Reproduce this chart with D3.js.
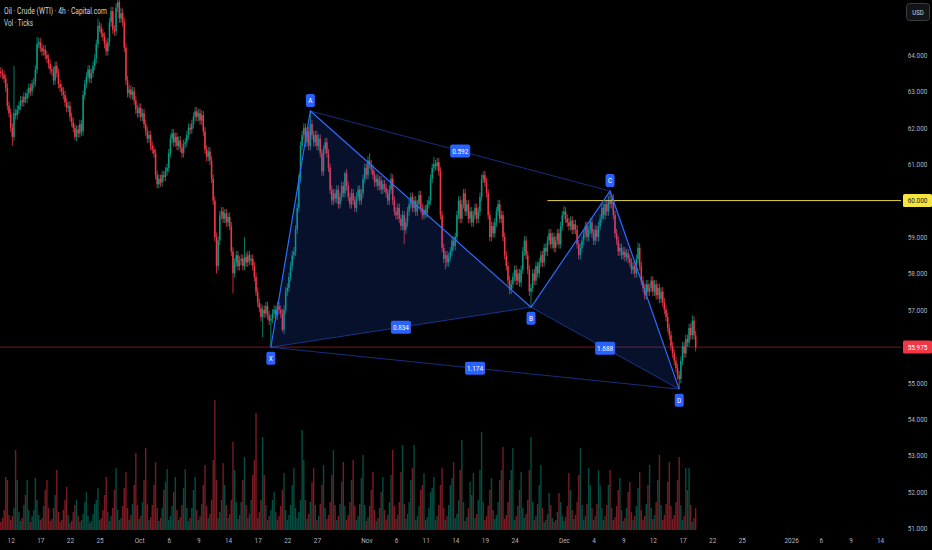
<!DOCTYPE html>
<html>
<head>
<meta charset="utf-8">
<script src="https://cdn.jsdelivr.net/npm/d3@7"></script>
<style>
  html, body { margin: 0; padding: 0; background: #000; }
  svg { display: block; }
  text { font-family: Roboto, 'Noto Sans', sans-serif; }
</style>
</head>
<body>
<div id="chart"></div>
<script>
// 4h closes, Sep 11 -> Dec 18 (6 bars a trading day)
const closes = [
  63.5, 63.45, 63.35, 63.1, 62.6, 62.4,
  62.0, 61.75, 62.4, 62.35, 62.5, 62.6,
  62.75, 62.7, 62.85, 62.8, 62.95, 63.1,
  63.0, 63.2, 63.25, 63.6, 64.3, 64.35,
  64.2, 64.1, 64.15, 64.0, 63.9, 63.75,
  63.6, 63.55, 63.3, 63.7, 63.5, 63.2,
  63.1, 63.0, 62.9, 62.7, 62.55, 62.6,
  62.3, 62.15, 62.0, 61.75, 61.95, 61.85,
  62.1, 61.9, 62.9, 63.2, 63.4, 63.6,
  63.35, 63.5, 63.7, 63.9, 64.3, 64.8,
  64.75, 64.6, 64.5, 64.3, 64.1, 64.35,
  64.9, 65.2, 64.7, 64.65, 65.3, 65.45,
  65.0, 65.15, 64.9, 64.2, 63.3, 62.95,
  63.05, 62.9, 63.0, 62.75, 62.5, 62.4,
  62.55, 62.3, 62.4, 62.1, 61.9, 61.7,
  61.8, 61.5, 61.4, 61.3, 60.7, 60.45,
  60.6, 60.5, 60.7, 60.65, 60.8, 60.9,
  61.3, 61.7, 61.85, 61.6, 61.75, 61.5,
  61.65, 61.45, 61.3, 61.55, 61.6, 61.8,
  62.0, 61.95, 62.1, 62.3, 62.45, 62.3,
  62.4, 62.2, 62.35, 61.9, 61.4, 61.2,
  61.35, 61.1, 60.6, 60.0, 59.0, 58.2,
  58.9, 59.6, 59.7, 59.5, 59.65, 59.4,
  59.55, 59.3, 58.6, 58.0, 58.3, 58.5,
  58.2, 58.35, 58.4, 58.2, 58.45, 58.3,
  58.5, 58.35, 58.4, 58.2, 57.9, 57.5,
  57.2, 57.05, 56.8, 57.0, 56.9, 57.1,
  56.85, 56.7, 56.75, 56.9, 57.0, 56.85,
  57.1, 57.0, 56.9, 56.45, 57.0, 57.5,
  57.6, 57.9, 58.2, 58.5, 58.6, 59.2,
  59.8, 60.6, 61.5, 61.8, 62.0, 61.6,
  61.9, 61.5, 62.1, 61.8, 61.6, 61.8,
  61.5, 61.7, 61.3, 60.8, 61.4, 61.6,
  61.3, 60.9, 60.3, 60.0, 60.2, 60.05,
  60.3, 59.9, 60.1, 60.4, 60.2, 60.75,
  60.4, 60.1, 59.9, 60.2, 60.0, 59.8,
  60.1, 60.3, 60.0, 60.2, 60.6, 60.9,
  60.7, 61.1, 61.0, 60.85, 60.7, 60.5,
  60.6, 60.4, 60.55, 60.3, 60.45, 60.35,
  60.2, 60.0, 60.3, 60.6, 60.0, 59.7,
  59.6, 59.8, 59.5, 59.3, 59.6, 59.2,
  59.4, 59.7, 59.9, 60.1, 59.8, 60.0,
  59.7, 59.9, 60.15, 59.8, 59.6, 59.75,
  59.65, 59.9, 60.0, 60.6, 60.9, 61.0,
  60.95, 61.05, 60.8, 59.6, 58.7, 58.4,
  58.5, 58.3, 58.45, 58.6, 58.9, 58.75,
  59.0, 59.6, 60.0, 59.5, 59.9, 60.2,
  59.7, 59.9, 59.5, 59.7, 59.4, 59.6,
  59.8, 59.5, 59.7, 60.1, 60.6, 60.7,
  60.5, 60.2, 59.6, 59.0, 59.3, 59.1,
  59.4, 59.7, 59.9, 59.5, 59.6, 59.0,
  58.5, 58.2, 57.8, 57.55, 57.7, 57.9,
  58.1, 57.8, 58.0, 57.75, 58.1, 58.6,
  58.9, 58.5, 58.1, 57.5, 57.6, 58.0,
  57.8, 58.2, 58.0, 58.3, 58.5, 58.3,
  58.7, 58.6, 58.9, 59.1, 58.8, 59.0,
  58.7, 58.9, 59.1, 58.8, 59.3, 59.6,
  59.7, 59.5, 59.4, 59.3, 59.45, 59.2,
  59.35, 59.2, 58.8, 58.5, 58.7, 58.9,
  59.1, 59.3, 59.0, 59.2, 59.4, 59.1,
  58.9, 59.2, 59.0, 59.3, 59.5, 59.8,
  59.6, 59.9, 59.7, 60.0, 59.9, 60.05,
  59.6, 59.1, 58.9, 58.6, 58.7, 58.5,
  58.6, 58.45, 58.55, 58.4, 58.3, 58.1,
  58.2, 58.0, 58.4, 58.7, 58.2, 57.8,
  57.6, 57.4, 57.7, 57.5, 57.6, 57.8,
  57.5, 57.7, 57.4, 57.6, 57.3, 57.5,
  57.2, 57.0, 56.8, 56.5, 56.3, 56.0,
  55.8, 55.6, 55.4, 55.2, 55.1, 55.6,
  56.0, 55.8, 56.2, 56.1, 56.5, 56.3,
  56.7, 56.3, 55.975
]
const firstOpen = 63.55

// ticks volume, same bars
const volumes = [
  8, 12, 20, 53, 50, 15,   10, 14, 22, 80, 50, 18,   9, 12, 25, 35, 50, 20,
  8, 14, 20, 52, 30, 15,   10, 12, 24, 40, 50, 22,   9, 11, 22, 35, 60, 18,
  8, 10, 20, 30, 43, 15,   7, 9, 18, 25, 30, 14,     8, 10, 16, 28, 38, 14,
  7, 9, 16, 26, 30, 42,    10, 12, 20, 35, 53, 18,   9, 14, 22, 40, 62, 20,
  10, 12, 24, 42, 58, 22,  10, 15, 26, 45, 77, 25,   11, 14, 28, 50, 82, 26,
  10, 13, 25, 45, 68, 22,  9, 12, 22, 40, 48, 61,    10, 14, 24, 38, 53, 20,
  10, 13, 25, 42, 61, 22,  9, 12, 22, 40, 53, 20,    10, 14, 26, 45, 65, 24,
  12, 16, 30, 70, 130, 50, 12, 18, 30, 67, 45, 25,   12, 16, 30, 88, 60, 28,
  11, 15, 28, 50, 73, 25,  12, 16, 30, 55, 70, 117,  12, 18, 30, 93, 55, 25,
  10, 14, 20, 30, 38, 18,  10, 14, 24, 40, 57, 20,   10, 15, 25, 45, 62, 22,
  12, 18, 30, 100, 70, 30, 11, 16, 28, 48, 62, 25,   10, 14, 26, 45, 65, 22,
  11, 15, 28, 55, 80, 25,  10, 14, 26, 48, 68, 24,   10, 15, 28, 50, 70, 24,
  10, 14, 26, 52, 75, 25,  9, 13, 24, 40, 58, 20,    9, 12, 22, 38, 53, 20,
  10, 15, 28, 55, 80, 24,  11, 15, 28, 58, 85, 26,   11, 16, 28, 50, 62, 85,
  10, 14, 24, 40, 45, 57,  10, 13, 22, 38, 42, 53,   10, 14, 25, 45, 62, 22,
  10, 14, 25, 45, 52, 68,  12, 16, 30, 60, 90, 28,   9, 13, 22, 48, 35, 57,
  12, 16, 30, 60, 98, 28,  10, 14, 24, 40, 52, 20,   11, 15, 28, 50, 60, 83,
  11, 15, 28, 50, 60, 82,  10, 14, 24, 40, 58, 22,   12, 16, 30, 60, 93, 28,
  10, 14, 26, 45, 65, 22,  8, 10, 16, 37, 25, 12,    8, 10, 18, 37, 28, 14,
  9, 13, 24, 57, 40, 20,   11, 15, 28, 55, 82, 25,   10, 14, 26, 62, 45, 22,
  10, 14, 26, 60, 45, 22,  10, 14, 25, 45, 60, 22,   10, 13, 24, 40, 52, 20,
  9, 12, 22, 38, 48, 18,   10, 14, 24, 42, 58, 20,   10, 14, 26, 45, 65, 22,
  11, 15, 28, 50, 75, 25,  10, 15, 26, 48, 68, 24,   11, 15, 28, 50, 73, 25,
  10, 14, 62, 40, 62, 25,  8, 12, 22
]

// wicks that stick out (bar, price)
const wickHighs = [[8, 63.7], [22, 64.5], [59, 65.0], [71, 65.55], [73, 65.3], [148, 59.0],
  [188, 62.46], [209, 60.8], [224, 61.3], [237, 60.75], [263, 61.2], [293, 60.8],
  [342, 59.85], [370, 60.26], [387, 58.85], [420, 56.85]]
const wickLows = [[7, 61.5], [45, 61.66], [96, 60.34], [131, 58.0], [141, 57.45], [159, 56.25],
  [164, 55.97], [171, 56.4], [245, 58.8], [270, 58.1], [322, 57.07], [412, 54.82]]

const priceTicks = [51, 52, 53, 54, 55, 57, 58, 59, 61, 62, 63, 64]
// first bar of the labelled day
const dateTicks = [6, 24, 42, 60, 84, 102, 120, 138, 156, 174, 192, 222, 240, 258, 276, 294, 312,
  342, 360, 378, 396, 414, 432, 450, 480, 498, 516, 534]
const dateLabels = ['12', '17', '22', '25', 'Oct', '6', '9', '14', '17', '22', '27', 'Nov', '6',
  '11', '14', '19', '24', 'Dec', '4', '9', '12', '17', '22', '25', '2026', '6', '9', '14']

// harmonic pattern
const pointNames = ['X', 'A', 'B', 'C', 'D']
const pointBars = [164, 188, 322, 370, 412]
const pointPrices = [55.97, 62.46, 57.07, 60.26, 54.82]
const ratioLinks = [['A', 'C'], ['X', 'B'], ['X', 'D'], ['B', 'D']]
const ratioLabels = ['0.592', '0.834', '1.174', '1.688']

const levelPrice = 60
const levelStartBar = 332
const lastPrice = 55.975

const W = 932, H = 550
const paneR = 901, paneB = 530

let svg = d3.select('#chart').append('svg')
  .attr('width', W).attr('height', H)
svg.append('rect').attr('width', W).attr('height', H).attr('fill', '#000')

let x = d3.scaleLinear().domain([0, 546.7]).range([0.8, paneR])
let y = d3.scaleLinear().domain([50.95, 65.51]).range([paneB, 0])
let yVol = d3.scaleLinear().domain([0, 130]).range([paneB, 400])

let hiMap = new Map(wickHighs), loMap = new Map(wickLows)
let bars = closes.map((c, i) => {
  let o = i === 0 ? firstOpen : closes[i - 1]
  let h = hiMap.has(i) ? hiMap.get(i) : Math.max(o, c) + 0.12
  let l = loMap.has(i) ? loMap.get(i) : Math.min(o, c) - 0.12
  return { i, o, c, h, l, v: volumes[i], up: c >= o }
})

let plot = svg.append('g')
plot.append('clipPath').attr('id', 'pane')
  .append('rect').attr('width', paneR).attr('height', paneB)
plot.attr('clip-path', 'url(#pane)')

// volume
plot.append('g').selectAll('rect')
  .data(bars).enter().append('rect')
  .attr('x', d => x(d.i) - 0.7)
  .attr('width', 1.4)
  .attr('y', d => yVol(d.v))
  .attr('height', d => paneB - yVol(d.v))
  .attr('fill', d => d.up ? 'rgba(8,153,129,0.5)' : 'rgba(242,54,69,0.5)')

// last price line
plot.append('line')
  .attr('x1', 0).attr('x2', paneR)
  .attr('y1', y(lastPrice)).attr('y2', y(lastPrice))
  .attr('stroke', 'rgba(242,54,69,0.6)').attr('stroke-width', 0.8)

// candles
let candles = plot.append('g').selectAll('g')
  .data(bars).enter().append('g')
candles.append('line')
  .attr('x1', d => x(d.i)).attr('x2', d => x(d.i))
  .attr('y1', d => y(d.h)).attr('y2', d => y(d.l))
  .attr('stroke', d => d.up ? '#089981' : '#f23645')
  .attr('stroke-width', 0.8)
candles.append('rect')
  .attr('x', d => x(d.i) - 0.75)
  .attr('width', 1.5)
  .attr('y', d => y(Math.max(d.o, d.c)))
  .attr('height', d => Math.max(0.8, Math.abs(y(d.o) - y(d.c))))
  .attr('fill', d => d.up ? '#089981' : '#f23645')

// 60 level
plot.append('line')
  .attr('x1', x(levelStartBar)).attr('x2', paneR)
  .attr('y1', y(levelPrice)).attr('y2', y(levelPrice))
  .attr('stroke', '#e0d23c').attr('stroke-width', 1)

// pattern
let pts = {}
pointNames.forEach((n, k) => { pts[n] = [x(pointBars[k]), y(pointPrices[k])] })
let pat = plot.append('g')
let tri = [['X', 'A', 'B'], ['B', 'C', 'D']]
pat.selectAll('path.fill')
  .data(tri).enter().append('path')
  .attr('d', d => 'M' + d.map(n => pts[n].join(',')).join('L') + 'Z')
  .attr('fill', 'rgba(41,98,255,0.17)')
pat.selectAll('line.link')
  .data(ratioLinks).enter().append('line')
  .attr('x1', d => pts[d[0]][0]).attr('y1', d => pts[d[0]][1])
  .attr('x2', d => pts[d[1]][0]).attr('y2', d => pts[d[1]][1])
  .attr('stroke', 'rgba(41,98,255,0.55)').attr('stroke-width', 0.9)
pat.append('path')
  .attr('d', 'M' + pointNames.map(n => pts[n].join(',')).join('L'))
  .attr('fill', 'none').attr('stroke', '#2f6bff').attr('stroke-width', 1.2)

function tag (g, cx, cy, txt, w) {
  g.append('rect')
    .attr('x', cx - w / 2).attr('y', cy - 6.5)
    .attr('width', w).attr('height', 13).attr('rx', 2)
    .attr('fill', '#2962ff')
  g.append('text')
    .attr('x', cx).attr('y', cy).attr('dy', '0.35em')
    .attr('text-anchor', 'middle').classed('narrow', true)
    .attr('fill', '#fff').style('font-size', '8px')
    .text(txt)
}
let tags = svg.append('g')
ratioLinks.forEach((d, k) => {
  let a = pts[d[0]], b = pts[d[1]]
  tag(tags, (a[0] + b[0]) / 2, (a[1] + b[1]) / 2, ratioLabels[k], 20)
})
pointNames.forEach(n => {
  let above = n === 'A' || n === 'C'
  tag(tags, pts[n][0], pts[n][1] + (above ? -10.5 : 11), n, 9)
})

// price axis
let yAxis = svg.append('g')
  .attr('transform', `translate(${paneR},0)`)
  .call(d3.axisRight(y).tickValues(priceTicks).tickFormat(d3.format('.3f')).tickSize(0))
yAxis.select('.domain').remove()
yAxis.selectAll('text')
  .attr('x', 16.5).attr('text-anchor', 'middle').classed('narrow', true)
  .attr('fill', '#b2b5be').style('font-size', '8px')
  .style('font-family', 'Roboto, sans-serif')

function priceTag (price, bg, fg) {
  let g = svg.append('g').attr('transform', `translate(${paneR + 2},${y(price)})`)
  g.append('rect').attr('x', 0).attr('y', -6.5).attr('width', 29).attr('height', 13)
    .attr('rx', 1.5).attr('fill', bg)
  g.append('text').attr('x', 14.5).attr('dy', '0.35em').attr('text-anchor', 'middle')
    .classed('narrow', true)
    .attr('fill', fg).style('font-size', '8px').text(d3.format('.3f')(price))
}
priceTag(levelPrice, '#f5e63e', '#131722')
priceTag(lastPrice, '#f23645', '#ffffff')

// USD button
svg.append('rect').attr('x', 906.5).attr('y', 3.5).attr('width', 23).attr('height', 17)
  .attr('rx', 3).attr('fill', '#131416').attr('stroke', '#3a3d45')
svg.append('text').attr('x', 918).attr('y', 12).attr('dy', '0.35em').classed('narrow', true)
  .attr('text-anchor', 'middle').attr('fill', '#d1d4dc').style('font-size', '7.5px').text('USD')

// date axis
let xAxis = svg.append('g')
  .attr('transform', `translate(0,${paneB})`)
  .call(d3.axisBottom(x).tickValues(dateTicks)
    .tickFormat((d, k) => dateLabels[k]).tickSize(0))
xAxis.select('.domain').remove()
xAxis.selectAll('text')
  .attr('y', 10).attr('dy', '0.35em').classed('narrow', true)
  .attr('fill', '#b2b5be').style('font-size', '8px')
  .style('font-family', 'Roboto, sans-serif')

// legend
let legend = svg.append('g').style('font-size', '8.3px').attr('fill', '#d1d4dc')
legend.append('text').attr('x', 4).attr('y', 11).attr('dy', '0.35em')
  .attr('textLength', 103).attr('lengthAdjust', 'spacingAndGlyphs')
  .text('Oil · Crude (WTI) · 4h · Capital.com')
legend.append('text').attr('x', 4).attr('y', 23).attr('dy', '0.35em')
  .attr('textLength', 29).attr('lengthAdjust', 'spacingAndGlyphs')
  .text('Vol · Ticks')

// the screenshot font is a narrow one: squeeze the small labels
svg.selectAll('text.narrow').each(function () {
  let w = this.getComputedTextLength()
  d3.select(this).attr('textLength', w * 0.8).attr('lengthAdjust', 'spacingAndGlyphs')
})
</script>
</body>
</html>
